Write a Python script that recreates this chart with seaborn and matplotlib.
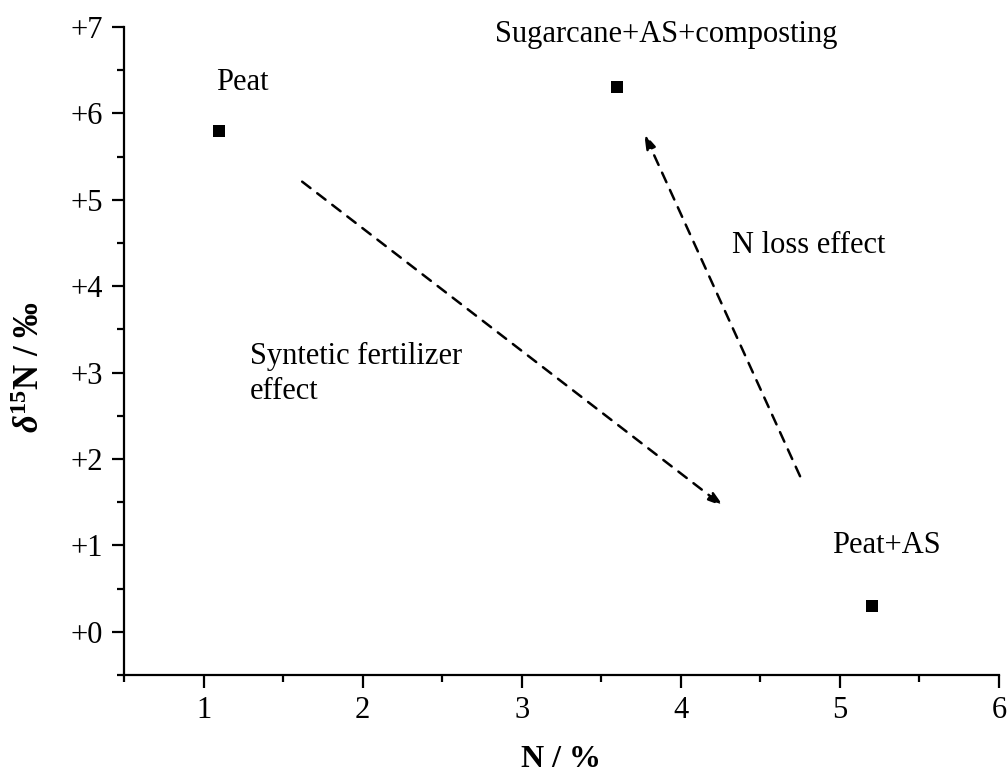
import matplotlib
matplotlib.use("Agg")
import matplotlib.pyplot as plt
from matplotlib.ticker import FixedLocator, MultipleLocator, FixedFormatter
import seaborn as sns

# ---- data ----
n_pct = [1.1, 3.6, 5.2]
d15n = [5.8, 6.3, 0.3]
sample_names = ["Peat", "Sugarcane+AS+composting", "Peat+AS"]
x_ticks = [1, 2, 3, 4, 5, 6]
x_tick_labels = ["1", "2", "3", "4", "5", "6"]
y_ticks = [0, 1, 2, 3, 4, 5, 6, 7]
y_tick_labels = ["+0", "+1", "+2", "+3", "+4", "+5", "+6", "+7"]
effect_labels = ["Syntetic fertilizer\neffect", "N loss effect"]

sns.set_style("ticks")
plt.rcParams["font.family"] = ["Liberation Serif", "DejaVu Serif"]
plt.rcParams["text.color"] = "black"
plt.rcParams["axes.labelcolor"] = "black"
plt.rcParams["xtick.color"] = "black"
plt.rcParams["ytick.color"] = "black"
plt.rcParams["axes.edgecolor"] = "black"
plt.rcParams["mathtext.fontset"] = "custom"
plt.rcParams["mathtext.rm"] = "Liberation Serif"
plt.rcParams["mathtext.it"] = "Liberation Serif:italic"
plt.rcParams["mathtext.bf"] = "Liberation Serif:bold"
plt.rcParams["mathtext.bfit"] = "Liberation Serif:italic:bold"

fig = plt.figure(figsize=(10.08, 7.78), dpi=100)
ax = fig.add_axes([0.123, 0.1324, 0.868, 0.8329])

sns.scatterplot(x=n_pct, y=d15n, marker="s", s=85, color="black",
                edgecolor="black", linewidth=0, ax=ax, zorder=3)

ax.set_xlim(0.5, 6)
ax.set_ylim(-0.5, 7)
ax.xaxis.set_major_locator(FixedLocator(x_ticks))
ax.xaxis.set_major_formatter(FixedFormatter(x_tick_labels))
ax.yaxis.set_major_locator(FixedLocator(y_ticks))
ax.yaxis.set_major_formatter(FixedFormatter(y_tick_labels))
ax.xaxis.set_minor_locator(MultipleLocator(0.5))
ax.yaxis.set_minor_locator(MultipleLocator(0.5))

sns.despine(ax=ax)
for s in ("left", "bottom"):
    ax.spines[s].set_linewidth(1.6)
    ax.spines[s].set_color("black")
ax.tick_params(which="major", direction="out", length=9, width=1.6,
               labelsize=22, color="black", labelcolor="black", pad=6)
ax.tick_params(which="minor", direction="out", length=5, width=1.6, color="black")

ax.set_xlabel("N / %", fontsize=23, fontweight="bold", color="black")
ax.set_ylabel(r"$\mathbfit{\delta}^{\mathbf{15}}$N / ‰", fontsize=25,
              fontweight="bold", color="black")
ax.xaxis.set_label_coords(0.5, -0.108)
ax.yaxis.set_label_coords(-0.088, 0.475)

# sample labels
ax.text(n_pct[0] - 0.02, d15n[0] + 0.47, sample_names[0], fontsize=22, ha="left", va="baseline")
ax.text(n_pct[1] - 0.77, d15n[1] + 0.53, sample_names[1], fontsize=22, ha="left", va="baseline")
ax.text(n_pct[2] - 0.25, d15n[2] + 0.61, sample_names[2], fontsize=22, ha="left", va="baseline")

# effect labels
ax.text(1.29, 3.36, effect_labels[0], fontsize=22, ha="left", va="top", linespacing=1.3)
ax.text(4.32, 4.38, effect_labels[1], fontsize=22, ha="left", va="baseline")

# dashed arrows
arrow_kw = dict(arrowstyle="-|>,head_length=0.9,head_width=0.28", lw=1.8,
                linestyle=(0, (4.2, 3.4)), color="black", shrinkA=0, shrinkB=0)
ax.annotate("", xy=(4.27, 1.45), xytext=(1.62, 5.21), arrowprops=arrow_kw)
ax.annotate("", xy=(3.77, 5.77), xytext=(4.75, 1.80), arrowprops=arrow_kw)

fig.savefig("out.png", dpi=100)
